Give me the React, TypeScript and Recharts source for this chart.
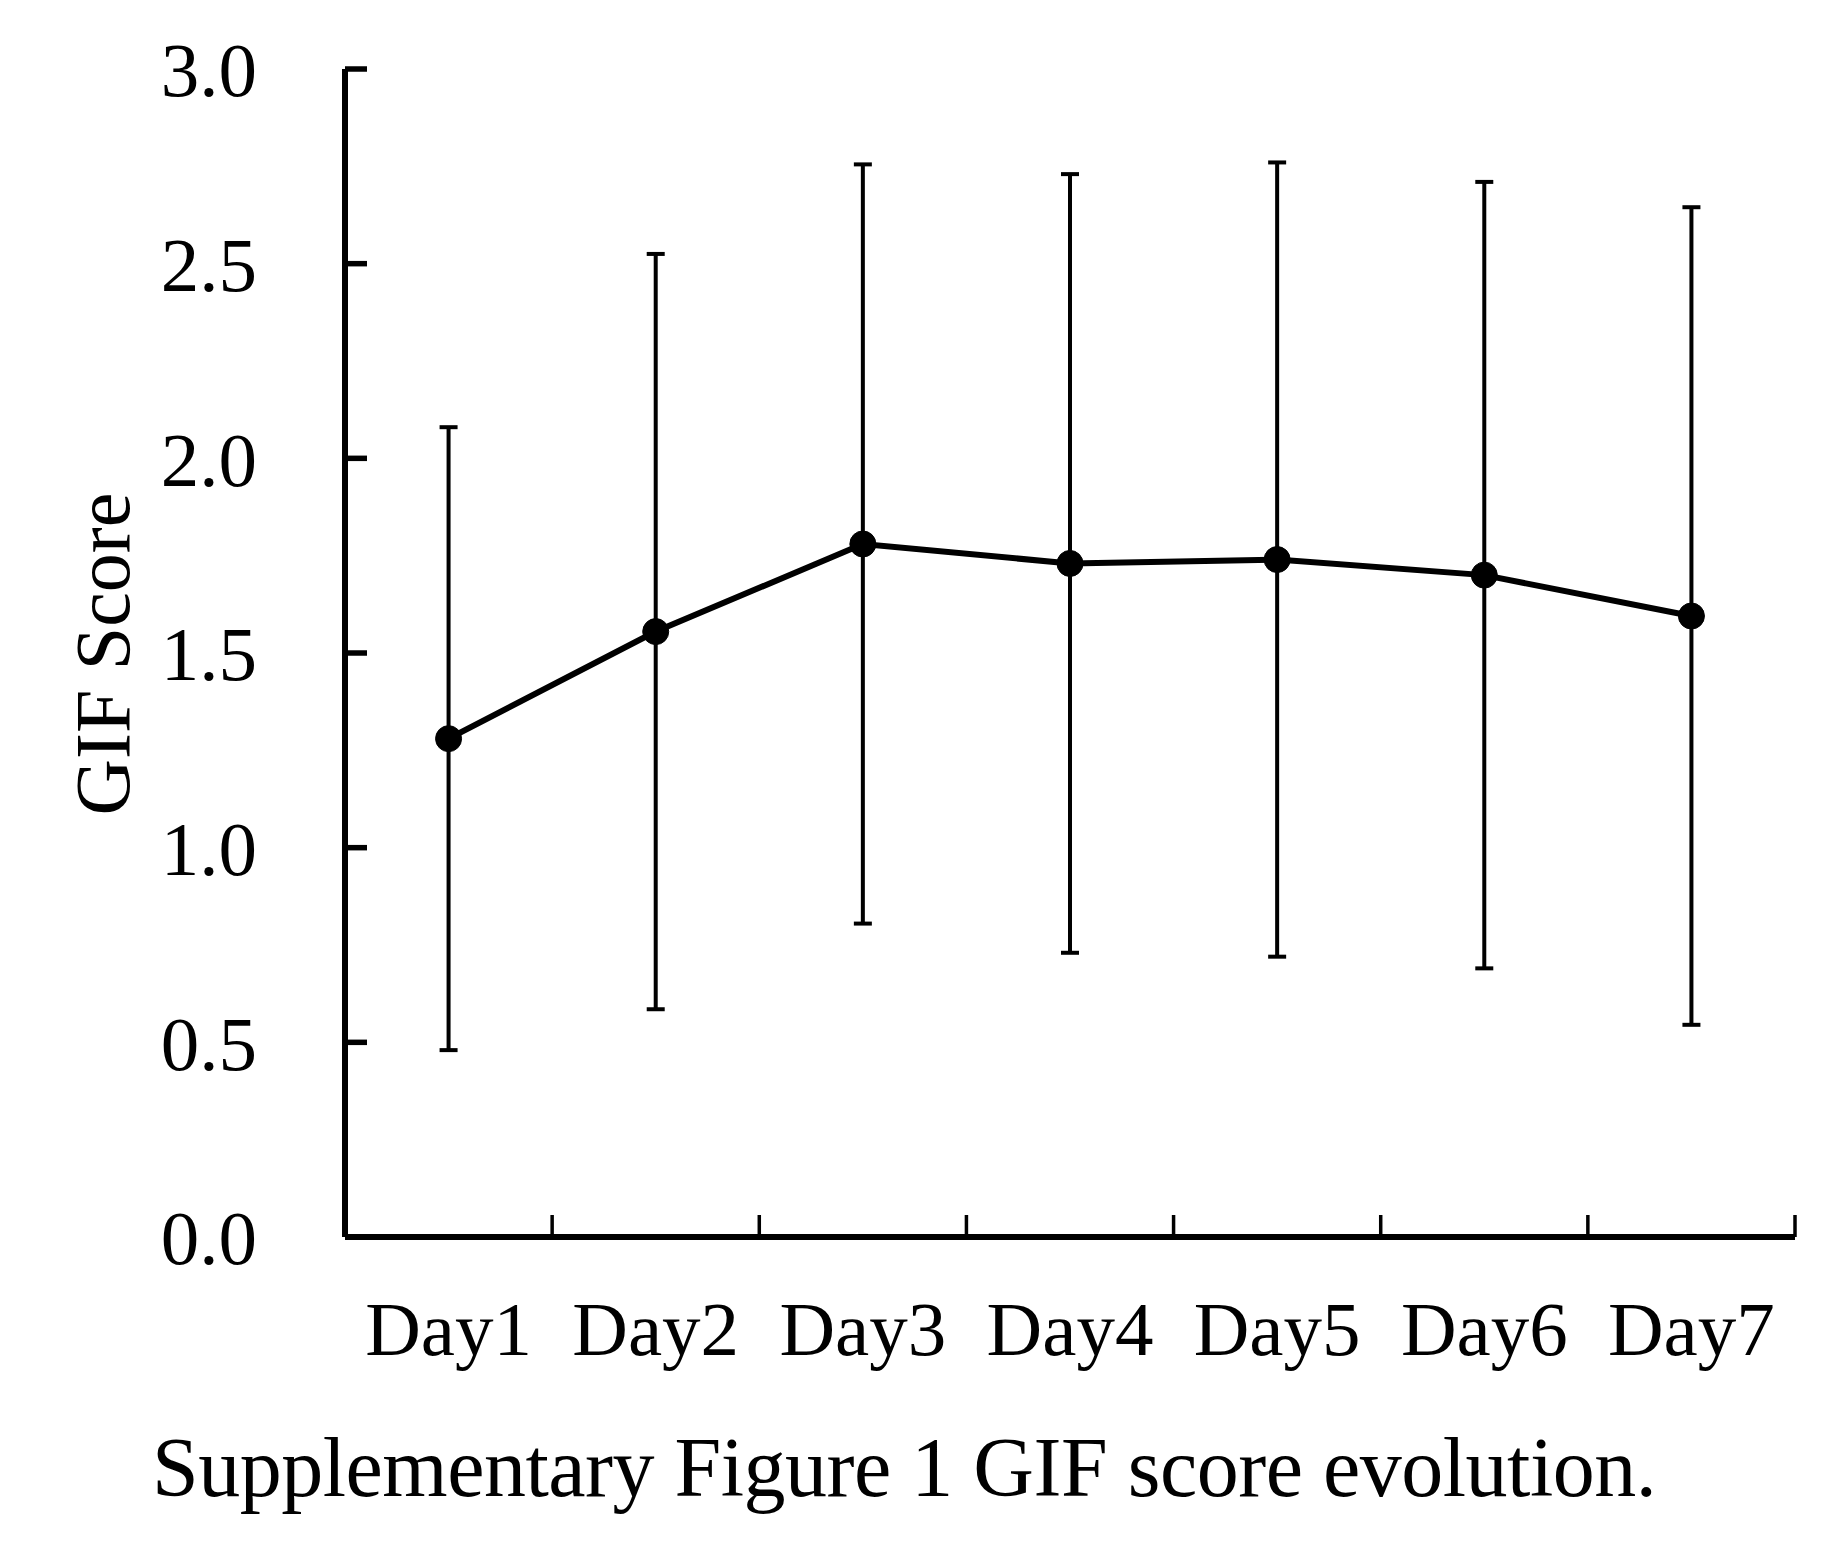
import React from 'react';
import { ComposedChart, Line, XAxis, YAxis, ErrorBar } from 'recharts';

// GIF score per day (mean and SD)
const days = ['Day1', 'Day2', 'Day3', 'Day4', 'Day5', 'Day6', 'Day7'];
const gifMean = [1.28, 1.555, 1.78, 1.73, 1.74, 1.7, 1.595];
const gifSd = [0.8, 0.97, 0.975, 1.0, 1.02, 1.01, 1.05];
const yTicks = [0, 0.5, 1, 1.5, 2, 2.5, 3];
// tick marks on the x axis sit between the days (right edge of each day)
const dayEdges = [1, 2, 3, 4, 5, 6, 7];

const FONT = '"Liberation Serif", "Times New Roman", serif';

const data = days.map((day, i) => ({ day, mean: gifMean[i], sd: gifSd[i], edge: dayEdges[i] }));

export default function App() {
  return (
    <div style={{ position: 'absolute', left: 0, top: 0, width: 1840, height: 1566, background: '#fff' }}>
      <ComposedChart
        width={1840}
        height={1566}
        data={data}
        margin={{ top: 69, right: 45, bottom: 199, left: 0 }}
      >
        <XAxis
          xAxisId="edges"
          dataKey="edge"
          type="number"
          domain={[0, 7]}
          ticks={dayEdges}
          interval={0}
          allowDataOverflow
          height={1}
          mirror
          tickFormatter={() => ''}
          tickSize={22}
          tickLine={{ stroke: '#000', strokeWidth: 3.5 }}
          axisLine={{ stroke: '#000', strokeWidth: 6 }}
        />
        <XAxis
          dataKey="day"
          type="category"
          scale="band"
          height={130}
          interval={0}
          axisLine={false}
          tickLine={false}
          tickSize={0}
          tickMargin={63}
          tick={{ fill: '#000', fontSize: 77, fontFamily: FONT }}
        />
        <YAxis
          width={345}
          domain={[0, 3]}
          ticks={yTicks}
          interval={0}
          tickFormatter={(v: number) => v.toFixed(1)}
          tickSize={-22}
          tickMargin={110}
          tickLine={{ stroke: '#000', strokeWidth: 5.5 }}
          axisLine={{ stroke: '#000', strokeWidth: 6 }}
          tick={{ fill: '#000', fontSize: 77, fontFamily: FONT }}
        />
        <Line
          dataKey="mean"
          stroke="#000"
          strokeWidth={6}
          dot={{ r: 13, fill: '#000', stroke: '#000', strokeWidth: 1 }}
          activeDot={false}
          isAnimationActive={false}
        >
          <ErrorBar dataKey="sd" direction="y" width={9} stroke="#000" strokeWidth={4} isAnimationActive={false} />
        </Line>
      </ComposedChart>

      <div
        style={{
          position: 'absolute',
          left: 103,
          top: 654,
          transform: 'translate(-50%, -50%) rotate(-90deg)',
          fontFamily: FONT,
          fontSize: 78,
          lineHeight: 1,
          whiteSpace: 'nowrap',
          color: '#000',
        }}
      >
        GIF Score
      </div>

      <div
        style={{
          position: 'absolute',
          left: 152,
          top: 1426,
          fontFamily: FONT,
          fontSize: 84,
          lineHeight: 1,
          letterSpacing: -0.5,
          whiteSpace: 'nowrap',
          color: '#000',
        }}
      >
        Supplementary Figure 1 GIF score evolution.
      </div>
    </div>
  );
}
